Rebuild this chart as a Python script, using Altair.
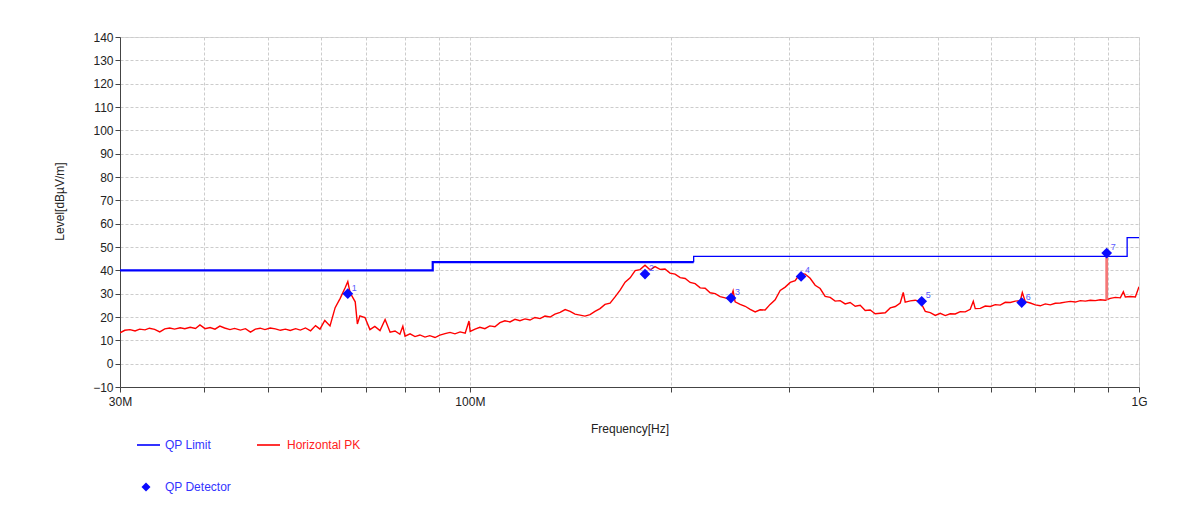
import altair as alt
import pandas as pd

# ---------------- data ----------------
# Horizontal PK trace (frequency in MHz, level in dBuV/m)
pk_freq = [
    30.0, 30.5, 31.05, 31.6, 32.1, 32.7, 33.2, 33.8, 34.4, 35.0, 35.6, 36.2,
    36.9, 37.5, 38.2, 38.9, 39.5, 40.2, 40.9, 41.6, 42.3, 43.0, 43.8, 44.5,
    45.4, 46.2, 47.0, 47.8, 48.6, 49.4, 50.3, 51.2, 52.1, 53.0, 53.9, 54.9,
    55.8, 56.8, 57.8, 58.8, 59.7, 60.7, 61.8, 62.9, 64.0, 65.1, 65.7, 66.2,
    67.4, 67.9, 68.5, 69.7, 70.9, 72.1, 73.4, 74.7, 76.0, 77.3, 78.6, 79.4,
    80.0, 81.4, 82.8, 84.2, 85.7, 87.1, 88.7, 90.2, 91.8, 93.4, 95.0, 96.7,
    98.4, 99.7, 100.1, 101.8, 103.5, 105.3, 107.1, 109.0, 110.9, 112.8, 114.8, 116.8,
    118.8, 120.9, 123.0, 125.1, 127.3, 129.5, 131.8, 134.0, 136.4, 138.8, 141.2, 143.6,
    146.1, 148.6, 151.2, 153.8, 156.5, 159.2, 162.0, 164.8, 167.7, 170.6, 173.6, 176.6,
    179.6, 182.7, 185.9, 189.1, 192.4, 195.7, 199.1, 202.6, 206.2, 209.8, 213.4, 217.1,
    220.9, 224.7, 228.6, 232.6, 236.6, 240.7, 244.9, 247.4, 249.1, 253.5, 257.9, 262.4,
    266.9, 271.5, 276.2, 281.0, 285.9, 290.9, 296.0, 301.1, 306.3, 311.6, 317.0, 322.5,
    328.1, 333.8, 339.6, 345.5, 351.5, 357.6, 363.8, 370.1, 376.6, 383.1, 389.8, 396.5,
    403.4, 410.5, 417.6, 424.9, 432.3, 439.7, 444.3, 447.3, 455.1, 463.0, 471.1, 479.3,
    487.6, 496.1, 504.6, 513.4, 522.3, 531.4, 540.6, 550.0, 559.5, 565.4, 569.2, 579.2,
    589.2, 599.5, 609.9, 620.4, 631.2, 642.1, 653.3, 664.7, 669.3, 676.2, 688.0, 700.0,
    712.0, 724.4, 736.9, 749.7, 762.8, 776.0, 789.5, 803.2, 817.2, 831.4, 845.8, 860.5,
    875.4, 890.6, 906.1, 921.8, 937.8, 947.6, 954.1, 970.6, 987.5, 1000.0,
]
pk_level = [
    13.2, 14.3, 14.6, 14.0, 14.8, 14.5, 15.2, 14.7, 13.6, 14.9, 15.3, 14.8,
    15.4, 15.0, 15.6, 15.1, 16.6, 15.0, 15.5, 14.8, 16.1, 15.3, 14.6, 15.1,
    14.4, 15.0, 13.5, 14.8, 15.2, 14.6, 15.3, 14.9, 14.3, 14.8, 14.2, 15.0,
    14.4, 15.3, 14.1, 16.3, 14.8, 18.5, 16.2, 24.0, 28.0, 32.5, 35.2, 30.5,
    26.5, 17.0, 20.5, 19.8, 14.6, 16.0, 14.2, 18.9, 13.5, 14.0, 12.6, 16.0,
    11.8, 12.8, 11.6, 12.3, 11.4, 12.0, 11.2, 12.2, 12.9, 13.4, 12.8, 13.6,
    13.1, 18.3, 13.8, 14.8, 15.6, 15.0, 16.2, 15.8, 17.6, 18.4, 17.9, 19.0,
    18.4, 19.2, 18.7, 19.8, 19.3, 20.4, 20.0, 21.2, 22.0, 23.2, 22.4, 21.2,
    20.8, 20.4, 21.0, 22.4, 23.6, 25.4, 25.9, 28.6, 31.5, 34.9, 36.8, 39.9,
    40.3, 42.2, 40.2, 41.6, 40.4, 40.6, 38.8, 38.4, 36.9, 36.5, 34.8, 34.3,
    32.5, 32.3, 30.4, 30.0, 28.7, 28.2, 27.5, 31.2, 26.5, 25.4, 24.6, 23.3,
    22.2, 23.1, 23.0, 25.4, 27.4, 31.4, 32.8, 34.8, 35.6, 38.6, 38.4, 36.6,
    33.6, 32.2, 28.8, 28.4, 26.8, 27.0, 25.6, 26.2, 24.6, 25.0, 22.8, 23.0,
    21.4, 21.6, 21.8, 23.9, 24.5, 26.0, 30.5, 26.4, 26.9, 27.2, 26.6, 22.4,
    21.9, 20.7, 21.6, 20.6, 21.4, 21.3, 22.3, 22.2, 23.3, 26.7, 23.6, 23.7,
    24.7, 24.5, 25.3, 25.1, 26.3, 26.2, 26.8, 27.0, 30.5, 26.6, 26.0, 25.2,
    24.8, 25.6, 25.2, 25.9, 26.0, 26.4, 26.7, 26.4, 27.0, 26.8, 27.2, 27.0,
    27.4, 27.2, 28.0, 28.4, 28.2, 30.8, 28.6, 28.8, 28.6, 33.0,
]

# QP limit (two drawn parts: thick up to 216 MHz, thin after)
limit_a_freq = [30, 88, 216]
limit_a_level = [40, 43.5, 43.5]
limit_b_freq = [216, 216, 960, 1000]
limit_b_level = [43.5, 46, 54, 54]

# QP detector results
qp_freq = [65.7, 182.7, 245.6, 312.6, 473.4, 667.9, 894.8]
qp_level = [30.0, 38.4, 28.1, 37.4, 26.7, 26.2, 47.4]
qp_label = ["1", "2", "3", "4", "5", "6", "7"]

# spike of the PK trace at marker 7
spike_freq = [894.8]
spike_low = [27.4]
spike_high = [47.4]

x_tick_values = [30, 40, 50, 60, 70, 80, 90, 100, 200, 300, 400, 500, 600, 700, 800, 900, 1000]
y_tick_values = list(range(-10, 141, 10))

# ---------------- tables ----------------
pk_df = pd.DataFrame({"f": pk_freq, "L": pk_level})
lim_a = pd.DataFrame({"f": limit_a_freq, "L": limit_a_level, "i": range(len(limit_a_freq))})
lim_b = pd.DataFrame({"f": limit_b_freq, "L": limit_b_level, "i": range(len(limit_b_freq))})
qp_df = pd.DataFrame({"f": qp_freq, "L": qp_level, "lab": qp_label})
spike_df = pd.DataFrame({"f": spike_freq, "L": spike_low, "L2": spike_high})

FONT = "Liberation Sans"
BLUE = "#0000ff"
RED = "#ff0000"

xscale = alt.Scale(type="log", domain=[30, 1000], nice=False)
yscale = alt.Scale(domain=[-10, 140], nice=False, zero=False)

xaxis = alt.Axis(
    values=x_tick_values,
    labelExpr="datum.value == 30 ? '30M' : datum.value == 100 ? '100M' : datum.value == 1000 ? '1G' : ''",
    title="Frequency[Hz]",
    grid=True, gridDash=[3, 2], gridColor="#cccccc", gridWidth=1,
    tickSize=5, tickColor="#444444", domainColor="#444444",
    labelFontSize=12, labelColor="#222222", labelPadding=4,
    labelFlush=False, labelOverlap=False, labelBound=False,
    titleFontSize=12, titleFontWeight="normal", titleColor="#222222",
    titleY=41, titleBaseline="middle",
)
yaxis = alt.Axis(
    values=y_tick_values,
    title="Level[dBµV/m]",
    grid=True, gridDash=[3, 2], gridColor="#cccccc", gridWidth=1,
    tickSize=5, tickColor="#444444", domainColor="#444444",
    labelFontSize=12, labelColor="#222222", labelPadding=2,
    labelFlush=False, labelOverlap=False,
    titleFontSize=12, titleFontWeight="normal", titleColor="#222222",
    titleX=-61, titleY=164, titleAngle=270, titleBaseline="middle", titleAlign="center",
)

X = alt.X("f:Q", scale=xscale, axis=xaxis)
Y = alt.Y("L:Q", scale=yscale, axis=yaxis)

trace = alt.Chart(pk_df).mark_line(color=RED, strokeWidth=1.4, clip=True).encode(x=X, y=Y)

limit_a = alt.Chart(lim_a).mark_line(color=BLUE, strokeWidth=2.2, interpolate="step-after").encode(
    x=X, y=Y, order="i:Q")
limit_b = alt.Chart(lim_b).mark_line(color=BLUE, strokeWidth=1.3, interpolate="step-after").encode(
    x=X, y=Y, order="i:Q")

spike = alt.Chart(spike_df).mark_rule(color="#f47878", strokeWidth=2.8).encode(
    x=X, y=Y, y2="L2:Q")

qp_points = alt.Chart(qp_df).mark_point(shape="diamond", filled=True, size=115, color="#0a0aff", opacity=1).encode(
    x=X, y=Y)
qp_text = alt.Chart(qp_df).mark_text(align="left", baseline="middle", dx=4, dy=-6, fontSize=9,
                                     color="#5a5aff", font=FONT).encode(x=X, y=Y, text="lab:N")

# ---------------- legend (below the plot) ----------------
leg_lines = pd.DataFrame({"x1": [17, 137], "x2": [40, 160], "y": [408, 408], "c": [BLUE, RED]})
leg_texts = pd.DataFrame({"x": [45, 167, 45], "y": [408, 408, 450],
                          "t": ["QP Limit", "Horizontal PK", "QP Detector"],
                          "c": ["#3333ff", "#ff2020", "#3333ff"]})
leg_pt = pd.DataFrame({"x": [26], "y": [450]})

leg_line_layer = alt.Chart(leg_lines).mark_rule(strokeWidth=1.6).encode(
    x=alt.X("x1:Q", scale=None, axis=None), x2="x2:Q",
    y=alt.Y("y:Q", scale=None, axis=None), color=alt.Color("c:N", scale=None))
leg_text_layer = alt.Chart(leg_texts).mark_text(align="left", baseline="middle", fontSize=12, font=FONT).encode(
    x=alt.X("x:Q", scale=None, axis=None), y=alt.Y("y:Q", scale=None, axis=None),
    text="t:N", color=alt.Color("c:N", scale=None))
leg_pt_layer = alt.Chart(leg_pt).mark_point(shape="diamond", filled=True, size=80, color="#0a0aff", opacity=1).encode(
    x=alt.X("x:Q", scale=None, axis=None), y=alt.Y("y:Q", scale=None, axis=None))

chart = alt.layer(
    limit_a, limit_b, trace, spike, qp_points, qp_text,
    leg_line_layer, leg_text_layer, leg_pt_layer,
).properties(
    width=1019, height=350,
    autosize=alt.AutoSizeParams(type="none"),
    padding={"left": 112, "top": 29, "right": 50, "bottom": 110},
).configure(
    font=FONT,
    background="white",
).configure_view(
    stroke="#d8d8d8", strokeWidth=1,
)

chart.save("out.html", embed_options={"renderer": "svg", "actions": False})
